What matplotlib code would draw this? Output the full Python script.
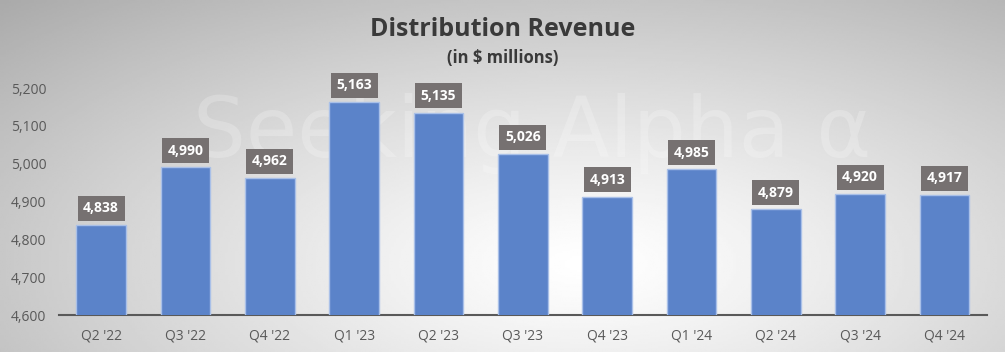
import numpy as np
import matplotlib
matplotlib.use("Agg")
import matplotlib.pyplot as plt

# dados do gráfico
quarters = ["Q2 '22", "Q3 '22", "Q4 '22", "Q1 '23", "Q2 '23", "Q3 '23",
            "Q4 '23", "Q1 '24", "Q2 '24", "Q3 '24", "Q4 '24"]
revenue = [4838, 4990, 4962, 5163, 5135, 5026, 4913, 4985, 4879, 4920, 4917]
yticks = [4600, 4700, 4800, 4900, 5000, 5100, 5200]

plt.rcParams['font.family'] = ['Open Sans', 'DejaVu Sans']

fig = plt.figure(figsize=(10.05, 3.52), dpi=100)

# fundo com gradiente radial
bg = fig.add_axes([0, 0, 1, 1], zorder=0)
xx, yy = np.meshgrid(np.linspace(0, 1, 400), np.linspace(0, 1, 200))
d = np.sqrt(((xx - 0.58) / 0.72) ** 2 + ((yy - 0.75) / 0.9) ** 2)
shade = 1.0 - 0.28 * np.clip(d, 0, 1.2) ** 1.2
bg.imshow(shade, cmap='gray', vmin=0, vmax=1, extent=[0, 1, 0, 1],
          origin='upper', aspect='auto')
bg.set_axis_off()

# marca d'água
fig.text(0.53, 0.62, "Seeking Alpha \u03b1", fontsize=60, color='white', alpha=0.22,
         ha='center', va='center', family='DejaVu Sans', zorder=1)

ax = fig.add_axes([0.0587, 0.105, 0.923, 0.645], zorder=2)
ax.patch.set_alpha(0)

x = np.arange(len(quarters))
bars = ax.bar(x, revenue, width=0.59, color='#5B83C9', edgecolor='#A9C0E8',
              linewidth=1, zorder=3)

for xi, v in zip(x, revenue):
    ax.annotate(f"{v:,}", (xi, v), xytext=(0, 12), textcoords='offset points',
                ha='center', va='center', fontsize=10, fontweight='bold',
                color='white', annotation_clip=False, zorder=4,
                bbox=dict(boxstyle='square,pad=0.4', fc='#767171', ec='none'))

ax.set_ylim(4600, 5200)
ax.set_xlim(-0.5, len(quarters) - 0.5)
ax.set_yticks(yticks)
ax.set_yticklabels([f"{t:,}" for t in yticks])
ax.set_xticks(x)
ax.set_xticklabels(quarters)
ax.tick_params(axis='both', length=0, labelsize=10, colors='#595959')
ax.tick_params(axis='x', pad=10)
ax.tick_params(axis='y', pad=9)
for s in ['top', 'right', 'left']:
    ax.spines[s].set_visible(False)
ax.spines['bottom'].set_color('#595959')
ax.spines['bottom'].set_linewidth(1.5)

fig.text(0.5, 0.915, "Distribution Revenue", ha='center', va='center',
         fontsize=18, fontweight='bold', color='#3A3A3A')
fig.text(0.5, 0.835, "(in $ millions)", ha='center', va='center',
         fontsize=12, fontweight='bold', color='#3A3A3A')

fig.savefig("out.png", dpi=100)
